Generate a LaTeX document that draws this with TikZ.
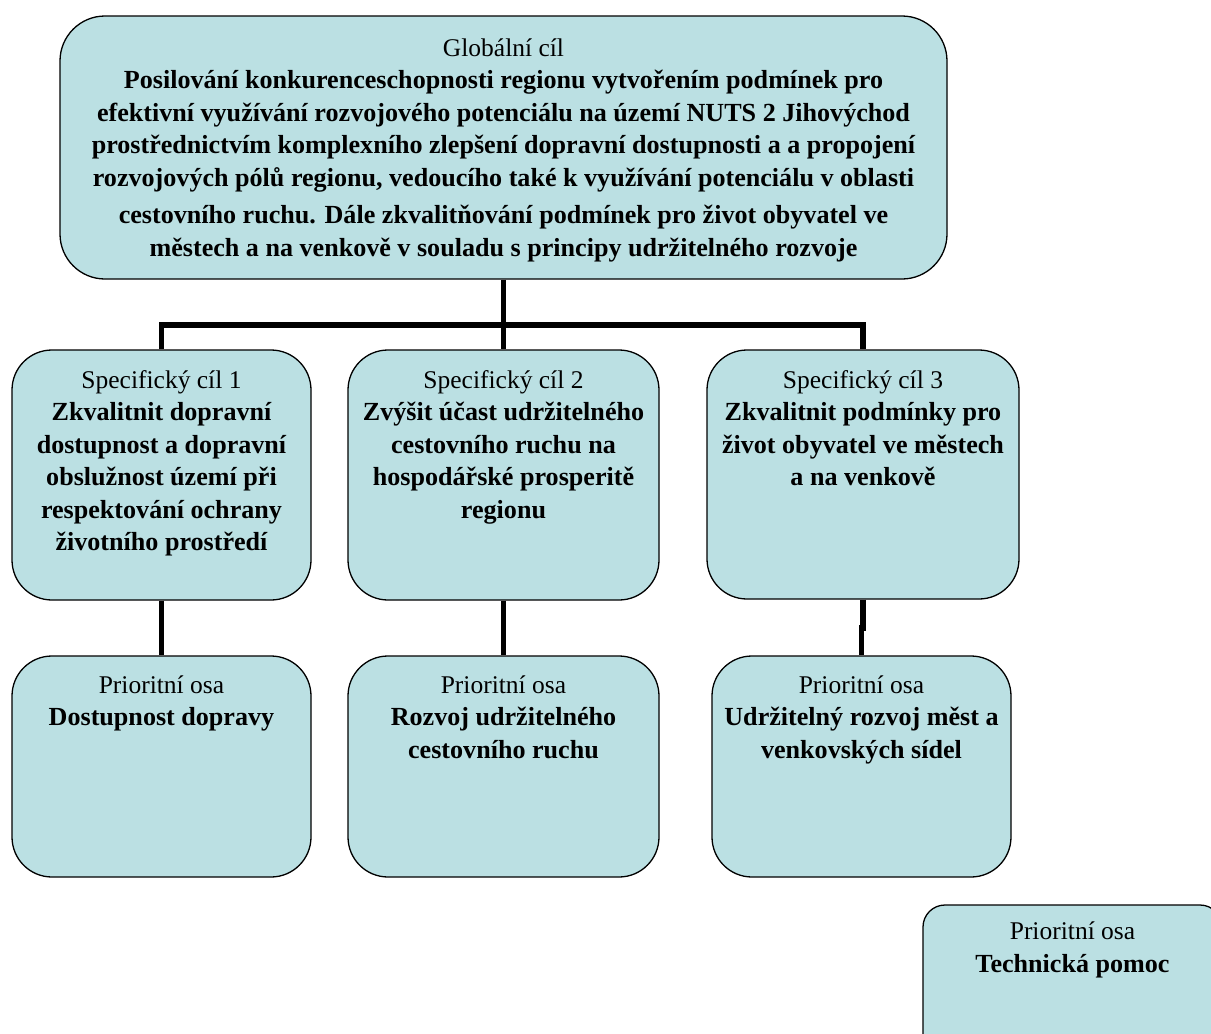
\documentclass[tikz,border=0pt]{standalone}
\usepackage{fontspec}
\setmainfont{Liberation Serif}
\definecolor{boxfill}{RGB}{187,224,227}
\newcommand\bl[1]{{\fontsize{26.1}{32.5}\selectfont\bfseries #1}}
\begin{document}
\begin{tikzpicture}[x=1pt,y=-1pt,
  box/.style={draw=black, line width=1.3pt, fill=boxfill, rounded corners=40pt, inner sep=0pt},
  txt/.style={anchor=north, align=center, inner sep=0pt, font=\fontsize{25.5}{32.5}\selectfont},
  conn/.style={line width=5.5pt, draw=black}]
\useasboundingbox (0,0) rectangle (1211,1034);
\clip (0,0) rectangle (1211,1034);

% boxes
\node[box, rounded corners=45pt, minimum width=887pt, minimum height=263pt] (top) at (503.5,147.5) {};
\node[box, minimum width=299pt, minimum height=250pt] (s1) at (161.5,475) {};
\node[box, minimum width=311pt, minimum height=250pt] (s2) at (503.5,475) {};
\node[box, minimum width=312pt, minimum height=249pt] (s3) at (863,474.5) {};
\node[box, minimum width=299pt, minimum height=221pt] (p1) at (161.5,766.5) {};
\node[box, minimum width=311pt, minimum height=221pt] (p2) at (503.5,766.5) {};
\node[box, minimum width=299pt, minimum height=221pt] (p3) at (861.5,766.5) {};
\node[box, rounded corners=22pt, minimum width=299pt, minimum height=221pt] (p4) at (1072.5,1015.5) {};

% connectors
\coordinate (bus) at (503.5,325);
\coordinate (jog) at (862,628);
\draw[conn] (top.south) -- (s2.north);
\draw[conn] (s1.north) |- (bus) -| (s3.north);
\draw[conn] (s1.south) -- (p1.north);
\draw[conn] (s2.south) -- (p2.north);
\draw[conn] (s3.south) -- (s3.south |- jog) -- (p3.north |- jog) -- (p3.north);

% texts
\node[txt] (ttop) at (503.5,33.25) {\strut Globální cíl\\
\bl{Posilování konkurenceschopnosti regionu vytvořením podmínek pro}\\
\bl{efektivní využívání rozvojového potenciálu na území NUTS 2 Jihovýchod}\\
\bl{prostřednictvím komplexního zlepšení dopravní dostupnosti a a propojení}\\
\bl{rozvojových pólů regionu, vedoucího také k využívání potenciálu v oblasti}\\[5pt]
\bl{cestovního ruchu. Dále zkvalitňování podmínek pro život obyvatel ve}\\
\bl{městech a na venkově v souladu s principy udržitelného rozvoje}};

\node[txt] (ts1) at (161.5,365.25) {\strut Specifický cíl 1\\
\bl{Zkvalitnit dopravní}\\
\bl{dostupnost a dopravní}\\
\bl{obslužnost území při}\\
\bl{respektování ochrany}\\
\bl{životního prostředí}};

\node[txt] (ts2) at (503.5,365.25) {\strut Specifický cíl 2\\
\bl{Zvýšit účast udržitelného}\\
\bl{cestovního ruchu na}\\
\bl{hospodářské prosperitě}\\
\bl{regionu}};

\node[txt] (ts3) at (863,365.25) {\strut Specifický cíl 3\\
\bl{Zkvalitnit podmínky pro}\\
\bl{život obyvatel ve městech}\\
\bl{a na venkově}};

\node[txt] (tp1) at (161.5,670.25) {\strut Prioritní osa\\
\bl{Dostupnost dopravy}};

\node[txt] (tp2) at (503.5,670.25) {\strut Prioritní osa\\
\bl{Rozvoj udržitelného}\\
\bl{cestovního ruchu}};

\node[txt] (tp3) at (861.5,670.25) {\strut Prioritní osa\\
\bl{Udržitelný rozvoj měst a}\\
\bl{venkovských sídel}};

\node[txt] (tp4) at (1072.5,916.75) {\strut Prioritní osa\\
\bl{Technická pomoc}};
\end{tikzpicture}
\end{document}
